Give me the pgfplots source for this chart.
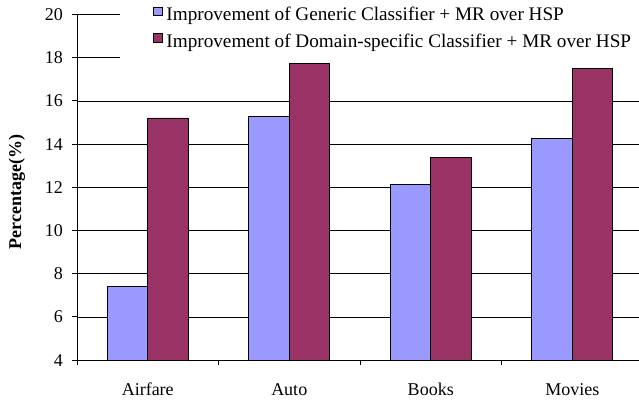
\documentclass[border=0pt]{standalone}
\usepackage{pgfplots}
\pgfplotsset{compat=1.18}
\usepackage{fontspec}
\setmainfont{Liberation Serif}
\definecolor{cblue}{HTML}{9999FF}
\definecolor{cmaroon}{HTML}{993366}
\begin{document}
\fontsize{18bp}{21bp}\selectfont
\begin{tikzpicture}
\begin{axis}[
  scale only axis, width=566bp, height=345.6bp,
  ybar=0pt, bar width=40.5bp,
  xmin=-0.5, xmax=3.5, ymin=4, ymax=20,
  ytick={4,6,...,20},
  xtick={-0.5,0.5,1.5,2.5,3.5},
  x tick label as interval,
  xticklabels={Airfare,Auto,Books,Movies},
  axis x line*=bottom, axis y line*=left,
  axis line style={black, line width=0.8bp},
  tick align=outside, major tick length=5bp,
  tick style={black, line width=0.8bp},
  ymajorgrids, grid style={black, line width=0.6bp},
  /pgf/number format/assume math mode=true,
  yticklabel style={anchor=east, inner sep=0pt, xshift=-9bp},
  xticklabel style={anchor=north, inner sep=0pt, text height=12.5bp, text depth=4bp, yshift=-17.5bp},
  every axis y label/.style={at={(axis description cs:-0.0989,0.487)}, rotate=90, anchor=base},
  ylabel={\textbf{Percentage(\%)}},
  legend style={at={(axis description cs:0.076,1.042)}, anchor=north west,
    draw=none, fill=white, inner xsep=33bp, inner ysep=6.5bp, row sep=8bp,
    font=\fontsize{19.2bp}{22bp}\selectfont,
    nodes={inner sep=0pt, text height=13.5bp, text depth=4.5bp},
    /tikz/every even column/.append style={column sep=0bp}},
  legend cell align=left,
  legend image code/.code={\draw[#1, draw=black, line width=0.6bp] (0bp,1bp) rectangle (8.5bp,9.5bp); \path (12.5bp,0bp);},
  every axis plot/.append style={draw=black, line width=0.9bp},
]
\addplot[fill=cblue] coordinates {(0,7.4) (1,15.27) (2,12.14) (3,14.25)};
\addplot[fill=cmaroon] coordinates {(0,15.21) (1,17.74) (2,13.37) (3,17.5)};
\legend{Improvement of Generic Classifier + MR over HSP, Improvement of Domain-specific Classifier + MR over HSP}
\end{axis}
\pgfresetboundingbox
\path[use as bounding box] (-77bp,-42.9bp) rectangle (562bp,360.1bp);
\end{tikzpicture}
\end{document}
